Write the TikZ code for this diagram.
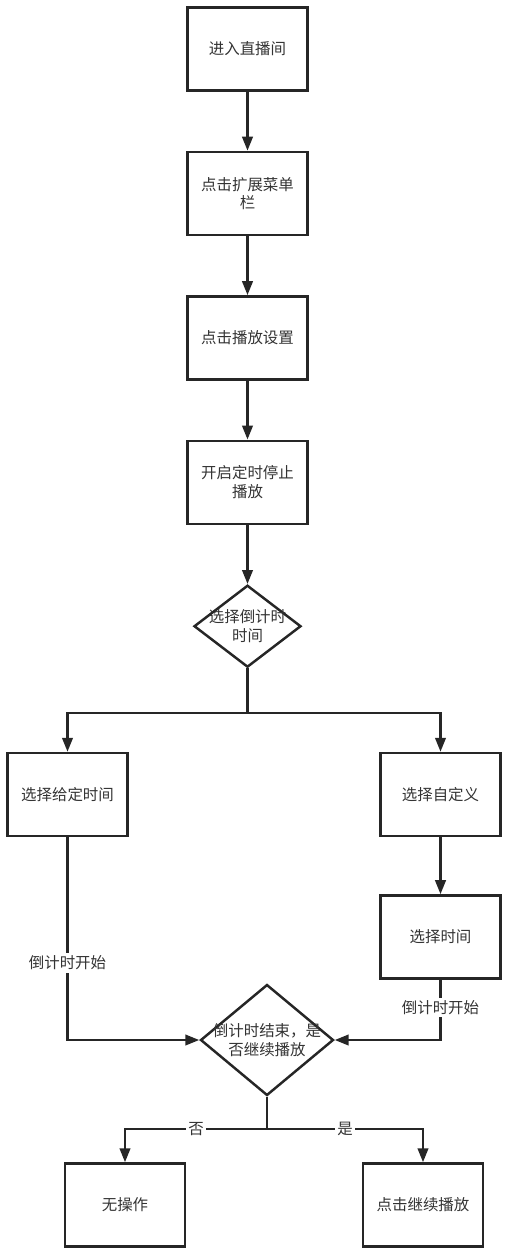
\documentclass[tikz,border=0pt]{standalone}
\usepackage{fontspec}
\setmainfont{Noto Sans CJK SC}
\usetikzlibrary{positioning,arrows.meta,shapes.geometric}

\begin{document}
\begin{tikzpicture}[
        x=0.02cm, y=-0.02cm,
        node distance=1.18cm,
        font=\fontsize{8.8}{10.5}\selectfont,
        >={Triangle[length=2.8mm,width=2.1mm]},
        stepbox/.style={rectangle, draw=black!85, line width=1.4pt, align=center, text=black!80, minimum width=2.4cm, minimum height=1.66cm, inner sep=3pt},
        decision/.style={diamond, draw=black!85, line width=1.4pt, align=center, text=black!80, inner sep=-1cm},
        lbl/.style={fill=white, text=black!80, inner sep=1.5pt},
        arrow/.style={->, line width=1.4pt, draw=black!85},
        line/.style={line width=1.4pt, draw=black!85}
    ]
    \useasboundingbox (0,0) rectangle (518,1254);

    % main column
    \node[stepbox] (enter) at (247.5,49) {进入直播间};
    \node[stepbox, below=of enter] (menu) {点击扩展菜单\\栏};
    \node[stepbox, below=of menu] (setting) {点击播放设置};
    \node[stepbox, below=of setting] (timer) {开启定时停止\\播放};
    \node[decision, minimum width=2.14cm, minimum height=1.64cm, below=of timer] (choose) {选择倒计时\\时间};

    % two ways to pick the time
    \node[stepbox] (fixed) at (67.5,794.5) {选择给定时间};
    \node[stepbox] (custom) at (440.5,794.5) {选择自定义};
    \node[stepbox, below=1.14cm of custom] (pickt) {选择时间};

    % countdown end
    \node[decision, minimum width=2.66cm, minimum height=2.22cm] (ended) at (267,1040) {倒计时结束，是\\否继续播放};
    \node[stepbox] (noop) at (125,1205) {无操作};
    \node[stepbox] (resume) at (423,1205) {点击继续播放};

    \coordinate (split) at (247.5,713);
    \coordinate (branch) at (267,1129);

    \draw[arrow] (enter) -- (menu);
    \draw[arrow] (menu) -- (setting);
    \draw[arrow] (setting) -- (timer);
    \draw[arrow] (timer) -- (choose);

    \draw[line] (choose) -- (split);
    \draw[arrow] (split) -| (fixed);
    \draw[arrow] (split) -| (custom);
    \draw[arrow] (custom) -- (pickt);

    \draw[arrow] (fixed) |- node[lbl, pos=0.31] {倒计时开始} (ended);
    \draw[arrow] (pickt) |- node[lbl, pos=0.23] {倒计时开始} (ended);

    \draw[line] (ended) -- (branch);
    \draw[arrow] (branch) -| node[lbl, pos=0.25] {否} (noop);
    \draw[arrow] (branch) -| node[lbl, pos=0.25] {是} (resume);
\end{tikzpicture}
\end{document}
